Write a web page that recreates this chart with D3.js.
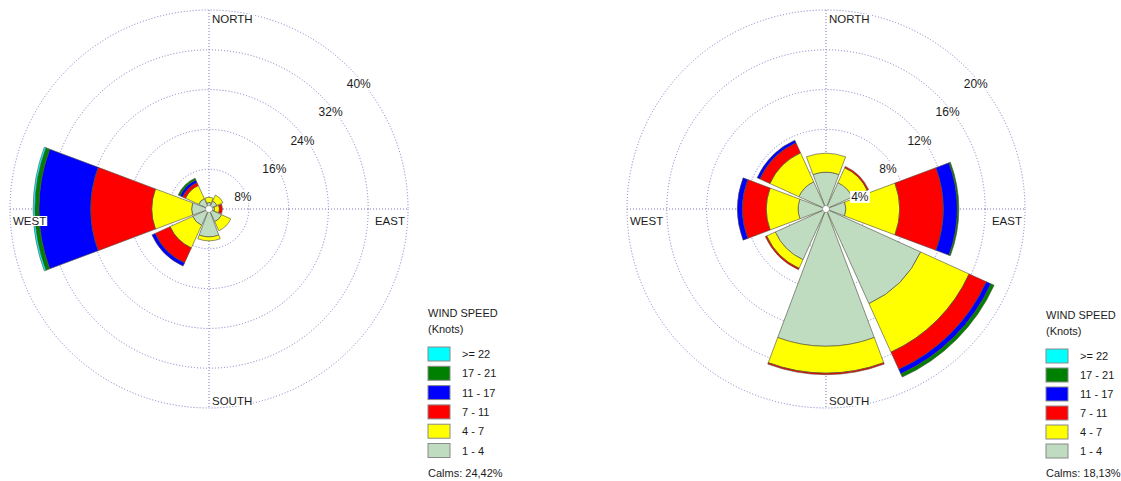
<!DOCTYPE html>
<html>
<head>
<meta charset="utf-8">
<script src="https://cdn.jsdelivr.net/npm/d3@7"></script>
<style>
  body { margin: 0; background: #fff; }
  text { font-family: "Liberation Sans", Arial, sans-serif; fill: #1c1c1c; }
</style>
</head>
<body>
<svg id="chart" width="1121" height="481"></svg>
<script>
var directions = ['N', 'NE', 'E', 'SE', 'S', 'SW', 'W', 'NW'];
var speedBands = ['1 - 4', '4 - 7', '7 - 11', '11 - 17', '17 - 21', '>= 22'];
var compassLabels = ['NORTH', 'EAST', 'SOUTH', 'WEST'];

// frequency (%) per direction, one value per speed band: 1-4, 4-7, 7-11, 11-17, 17-21, >=22
var freqLeft = [
  [1.3, 1.05, 0, 0, 0, 0],
  [1.75, 1.35, 0, 0, 0, 0],
  [1.1, 1.0, 0.6, 0, 0, 0],
  [2.8, 2.0, 0, 0, 0, 0],
  [5.6, 0.8, 0, 0, 0, 0],
  [3.6, 5.0, 3.3, 0.7, 0, 0],
  [3.5, 8.0, 12.3, 10.4, 0.8, 0.35],
  [2.3, 2.9, 0.65, 0.55, 0.4, 0]
];
var freqRight = [
  [3.7, 1.9, 0, 0, 0, 0],
  [2.9, 1.65, 0.15, 0, 0, 0],
  [2.0, 5.4, 4.4, 1.4, 0.15, 0],
  [10.45, 5.35, 1.9, 0.5, 0.35, 0],
  [13.8, 2.7, 0.15, 0, 0, 0],
  [5.6, 0.95, 0.15, 0, 0, 0],
  [2.8, 3.2, 2.4, 0.5, 0, 0],
  [3.0, 3.2, 1.1, 0.3, 0, 0]
];
var ticksLeft = [8, 16, 24, 32, 40];
var ticksRight = [4, 8, 12, 16, 20];
var calmsLeft = 24.42;
var calmsRight = 18.13;

var bandColors = ['#c0dcc0', '#ffff00', '#ff0000', '#0000ff', '#008000', '#00ffff'];
var gridColor = '#7a7ac4';
var outerR = 199;

var svg = d3.select('svg#chart');

function labelWithBox(g, txt, x, y, anchor, size) {
  var t = g.append('text')
    .attr('x', x)
    .attr('y', y)
    .attr('text-anchor', anchor)
    .style('font-size', size + 'px')
    .text(txt);
  var b = t.node().getBBox();
  g.insert('rect', function () { return t.node(); })
    .attr('x', b.x - 1)
    .attr('y', b.y + 1)
    .attr('width', b.width + 2)
    .attr('height', b.height - 2)
    .style('fill', 'white');
}

function drawRose(cx, cy, freq, ticks) {
  var g = svg.append('g')
    .attr('transform', 'translate(' + cx + ',' + cy + ')');

  var r = d3.scaleLinear()
    .domain([0, d3.max(ticks)])
    .range([0, outerR]);

  var angle = d3.scaleBand()
    .domain(directions)
    .range([-Math.PI / 8, 2 * Math.PI - Math.PI / 8])
    .paddingInner(0.085)
    .paddingOuter(0.0425);

  // dotted grid
  g.selectAll('circle.ring')
    .data(ticks)
    .enter()
    .append('circle')
      .attr('class', 'ring')
      .attr('r', function (d) { return r(d); })
      .style('fill', 'none')
      .style('stroke', gridColor)
      .style('stroke-width', 1)
      .style('stroke-dasharray', '1,2');

  g.append('line')
    .attr('x1', -outerR).attr('x2', outerR)
    .attr('y1', 0).attr('y2', 0)
    .style('stroke', gridColor)
    .style('stroke-dasharray', '1,2');
  g.append('line')
    .attr('x1', 0).attr('x2', 0)
    .attr('y1', -outerR).attr('y2', outerR)
    .style('stroke', gridColor)
    .style('stroke-dasharray', '1,2');

  // stacked sectors
  var rows = freq.map(function (v, i) {
    var o = { dir: directions[i] };
    v.forEach(function (x, j) { o[j] = x; });
    return o;
  });
  var stacked = d3.stack().keys(d3.range(speedBands.length))(rows);

  var arc = d3.arc()
    .innerRadius(function (d) { return r(d[0]); })
    .outerRadius(function (d) { return r(d[1]); })
    .startAngle(function (d) { return angle(d.data.dir); })
    .endAngle(function (d) { return angle(d.data.dir) + angle.bandwidth(); });

  stacked.forEach(function (layer, k) {
    g.append('g')
      .selectAll('path')
      .data(layer.filter(function (d) { return d[1] - d[0] > 0; }))
      .enter()
      .append('path')
        .attr('d', arc)
        .style('fill', bandColors[k])
        .style('stroke', '#4a4a3a')
        .style('stroke-width', 0.6);
  });

  g.append('circle')
    .attr('r', 3.5)
    .style('fill', 'white')
    .style('stroke', '#666')
    .style('stroke-width', 0.5);

  // ring labels
  ticks.forEach(function (t) {
    var d = r(t) / Math.SQRT2;
    labelWithBox(g, t + '%', d - 3, -d + 20, 'start', 12);
  });

  // compass labels
  labelWithBox(g, compassLabels[0], 3, -outerR + 13, 'start', 11.5);
  labelWithBox(g, compassLabels[1], outerR - 3, 16, 'end', 11.5);
  labelWithBox(g, compassLabels[2], 3, outerR - 3, 'start', 11.5);
  labelWithBox(g, compassLabels[3], -outerR + 3, 16, 'start', 11.5);
}

function drawLegend(x, y, step, calms) {
  var g = svg.append('g')
    .attr('transform', 'translate(' + x + ',' + y + ')');

  g.append('text').attr('x', 0).attr('y', 0)
    .style('font-size', '11px').text('WIND SPEED');
  g.append('text').attr('x', 0).attr('y', 16)
    .style('font-size', '11px').text('(Knots)');

  var items = speedBands.slice().reverse();
  var colors = bandColors.slice().reverse();

  var row = g.selectAll('g.item')
    .data(items)
    .enter()
    .append('g')
      .attr('transform', function (d, i) { return 'translate(0,' + (30 + i * step) + ')'; });

  row.append('rect')
    .attr('width', 22)
    .attr('height', 14)
    .style('fill', function (d, i) { return colors[i]; })
    .style('stroke', '#8a8a8a')
    .style('stroke-width', 1);

  row.append('text')
    .attr('x', 34)
    .attr('y', 11)
    .style('font-size', '11px')
    .text(function (d) { return d; });

  g.append('text').attr('x', 0).attr('y', 30 + 5 * step + 33)
    .style('font-size', '11px')
    .text('Calms: ' + d3.format('.2f')(calms).replace('.', ',') + '%');
}

drawRose(209, 209, freqLeft, ticksLeft);
drawRose(826, 209, freqRight, ticksRight);
drawLegend(428, 317, 19.3, calmsLeft);
drawLegend(1046, 319, 19.0, calmsRight);
</script>
</body>
</html>
